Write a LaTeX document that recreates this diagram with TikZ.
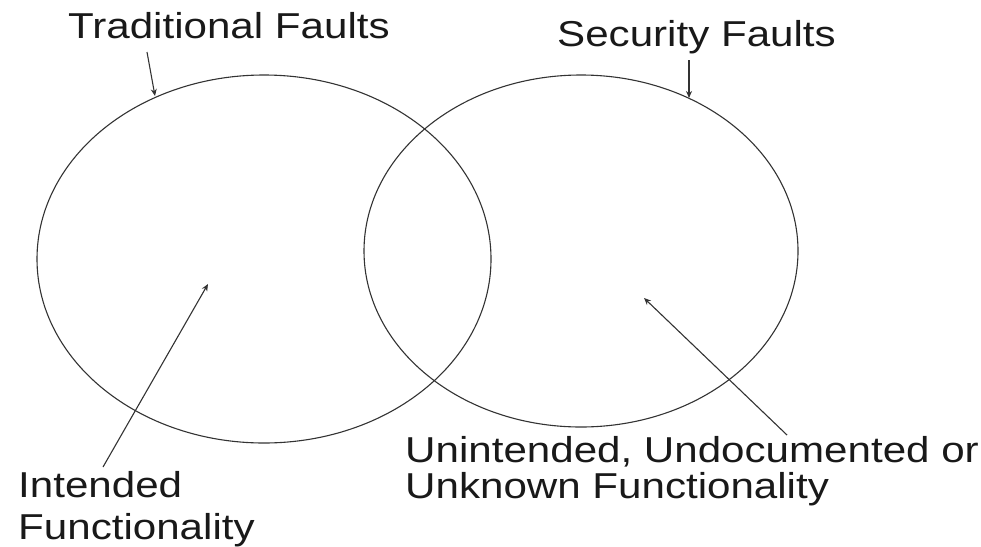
\documentclass[tikz,border=0pt]{standalone}
\usepackage{fontspec}
\setmainfont{Liberation Sans}
\usetikzlibrary{arrows.meta}
\tikzset{
  venn/.style={draw=black!80, line width=1.1pt},
  pointer/.style={draw=black!80, line width=1.1pt, -{Stealth[length=7pt,width=6pt]}},
  lbl/.style={anchor=base west, inner sep=0pt, font=\fontsize{36}{38}\selectfont, text=black!90}
}
\newcommand{\wide}[1]{\scalebox{1.17}[1]{#1}}
\begin{document}
\begin{tikzpicture}[x=1pt,y=-1pt]
\useasboundingbox (0,0) rectangle (981,546);
% ellipses
\draw[venn] (264,259) ellipse [x radius=227, y radius=184];
\draw[venn] (581,251) ellipse [x radius=217, y radius=176];
% labels
\node[lbl] (trad) at (68,38) {\wide{Traditional Faults}};
\node[lbl] (sec) at (557,46) {\wide{Security Faults}};
\node[lbl] (unint1) at (405,462) {\wide{Unintended, Undocumented or}};
\node[lbl] (unint2) at (405,498) {\wide{Unknown Functionality}};
\node[lbl] (int1) at (18,497) {\wide{Intended}};
\node[lbl] (int2) at (18,539) {\wide{Functionality}};
% arrow ends
\coordinate (tradtail) at (147,52);
\coordinate (tradtip) at (155,96);
\coordinate (sectail) at (689,60);
\coordinate (sectip) at (689,98);
\coordinate (inttail) at (103,467);
\coordinate (inttip) at (208,284);
\coordinate (unitail) at (787,435);
\coordinate (unitip) at (644,298);
\draw[pointer] (tradtail) -- (tradtip);
\draw[pointer] (sectail) -- (sectip);
\draw[pointer] (inttail) -- (inttip);
\draw[pointer] (unitail) -- (unitip);
\end{tikzpicture}
\end{document}
